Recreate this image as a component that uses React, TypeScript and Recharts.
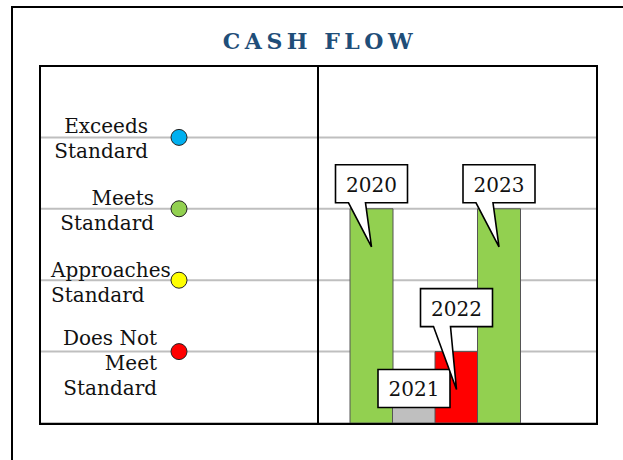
import { Bar, BarChart, CartesianGrid, Cell, LabelList, Scatter, ScatterChart, XAxis, YAxis } from "recharts";

// performance levels shown on the left half
const levelNames = ["Exceeds Standard", "Meets Standard", "Approaches Standard", "Does Not Meet Standard"];
const levelLines = [["Exceeds", "Standard"], ["Meets", "Standard"], ["Approaches", "Standard"], ["Does Not", "Meet", "Standard"]];
const levelValues = [4, 3, 2, 1];
const levelColors = ["#00B0F0", "#92D050", "#FFFF00", "#FF0000"];

// cash flow rating per year
const years = ["2020", "2021", "2022", "2023"];
const yearValues = [3, 0.75, 1, 3];
const yearColors = ["#92D050", "#BFBFBF", "#FF0000", "#92D050"];

const gridTicks = [1, 2, 3, 4];

const FONT = "'DejaVu Serif', serif";
const CHART_W = 278;
const CHART_H = 357;

// text placement next to each circle (style only)
const labelLayout = [
  { anchor: "end", dx: -31, dy: -4 },
  { anchor: "end", dx: -25, dy: -4 },
  { anchor: "start", dx: -128, dy: -3 },
  { anchor: "end", dx: -22, dy: -7 }
];

// callout placement above each bar (style only)
const calloutLayout = [
  { gap: 6, pointer: true },
  { gap: -38, pointer: false },
  { gap: 25, pointer: true },
  { gap: 6, pointer: true }
];

const levelData = levelNames.map((name, i) => ({
  name,
  x: 0.5,
  y: levelValues[i],
  lines: levelLines[i],
  color: levelColors[i],
  idx: i
}));

const yearData = years.map((year, i) => ({ year, value: yearValues[i] }));

const renderLevel = (props: unknown) => {
  const { cx, cy, payload } = props as {
    cx: number;
    cy: number;
    payload: { lines: string[]; color: string; idx: number };
  };
  const lay = labelLayout[payload.idx];
  return (
    <g>
      <circle cx={cx} cy={cy} r={8} fill={payload.color} stroke="#222" strokeWidth={1} />
      <text x={cx + lay.dx} y={cy + lay.dy} textAnchor={lay.anchor as "start" | "end"} fontFamily={FONT} fontSize={20} fill="#111">
        {payload.lines.map((line, k) => (
          <tspan key={k} x={cx + lay.dx} dy={k === 0 ? 0 : 25}>
            {line}
          </tspan>
        ))}
      </text>
    </g>
  );
};

const renderCallout = (props: unknown) => {
  const { x, y, width, value, index } = props as {
    x: number;
    y: number;
    width: number;
    value: number;
    index: number;
  };
  const lay = calloutLayout[index];
  const cx = x + width / 2;
  const bw = 72;
  const bh = 38;
  const left = cx - bw / 2;
  const right = cx + bw / 2;
  const bottom = y - lay.gap;
  const top = bottom - bh;
  const tipY = y + 38;
  const path = lay.pointer
    ? `M${left},${top} H${right} V${bottom} H${left + 30} L${cx},${tipY} L${left + 13},${bottom} H${left} Z`
    : `M${left},${top} H${right} V${bottom} H${left} Z`;
  return (
    <g key={`callout-${index}`}>
      <path d={path} fill="#fff" stroke="#000" strokeWidth={1.6} strokeLinejoin="miter" />
      <text x={cx} y={top + 27} textAnchor="middle" fontFamily={FONT} fontSize={20} fill="#111">
        {years[index] ?? value}
      </text>
    </g>
  );
};

export default function App() {
  return (
    <div style={{ position: "absolute", left: 0, top: 0, width: 623, height: 460, background: "#fff", overflow: "hidden" }}>
      <div style={{ position: "absolute", left: 11, top: 6, width: 700, height: 600, border: "2px solid #000" }} />
      <div
        style={{
          position: "absolute",
          left: 0,
          top: 30,
          width: 640,
          textAlign: "center",
          fontFamily: FONT,
          fontWeight: "bold",
          fontSize: 22,
          lineHeight: "22px",
          letterSpacing: 4.5,
          color: "#1F4E79"
        }}
      >
        CASH FLOW
      </div>

      <div style={{ position: "absolute", left: 40, top: 66 }}>
        <ScatterChart width={CHART_W} height={CHART_H} margin={{ top: 0, right: 0, bottom: 0, left: 0 }}>
          <CartesianGrid vertical={false} stroke="#BFBFBF" strokeWidth={2} />
          <XAxis type="number" dataKey="x" domain={[0, 1]} hide />
          <YAxis type="number" dataKey="y" domain={[0, 5]} ticks={gridTicks} hide />
          <Scatter data={levelData} shape={renderLevel} isAnimationActive={false} />
        </ScatterChart>
      </div>

      <div style={{ position: "absolute", left: 318, top: 66 }}>
        <BarChart width={CHART_W} height={CHART_H} data={yearData} barCategoryGap={0} margin={{ top: 0, right: 0, bottom: 0, left: 0 }}>
          <CartesianGrid vertical={false} stroke="#BFBFBF" strokeWidth={2} />
          <XAxis dataKey="year" hide padding={{ left: 32, right: 76 }} />
          <YAxis domain={[0, 5]} ticks={gridTicks} hide />
          <Bar dataKey="value" stroke="#555" strokeWidth={1} isAnimationActive={false}>
            {yearData.map((d, i) => (
              <Cell key={d.year} fill={yearColors[i]} />
            ))}
            <LabelList dataKey="value" content={renderCallout} />
          </Bar>
        </BarChart>
      </div>

      <div style={{ position: "absolute", left: 39, top: 65, width: 555, height: 356, border: "2px solid #000", pointerEvents: "none" }} />
      <div style={{ position: "absolute", left: 317, top: 66, width: 2, height: 357, background: "#000" }} />
    </div>
  );
}
